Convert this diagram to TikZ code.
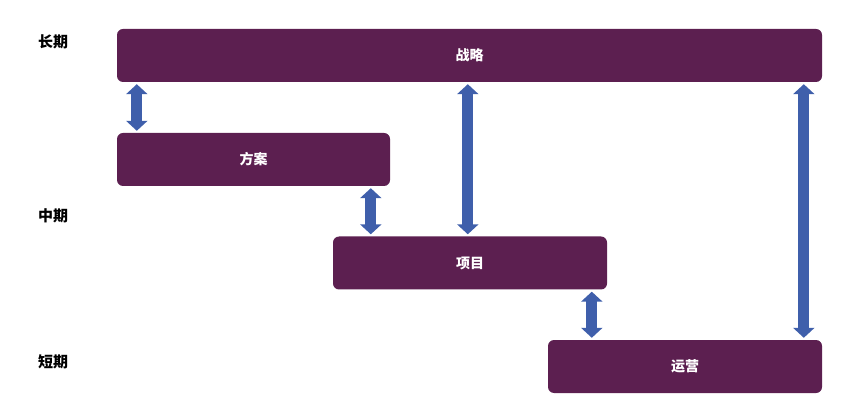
\documentclass[tikz,border=0pt]{standalone}
\usepackage{fontspec}
\newfontfamily\cjk{Noto Sans CJK SC}
\usetikzlibrary{positioning, calc, arrows.meta}

\definecolor{planpurple}{HTML}{5C1F50}
\definecolor{linkblue}{HTML}{3F5FAB}

\begin{document}
\begin{tikzpicture}[x=1pt, y=-1pt,
				% Define styles
				phasebox/.style={rectangle, fill=planpurple, rounded corners=6pt, minimum height=53pt, align=center, font=\cjk\bfseries\fontsize{14}{16}\selectfont, text=white, inner sep=0pt},
				horizon/.style={font=\cjk\bfseries\fontsize{15}{17}\selectfont, text=black},
				link/.style={{Triangle[width=21pt,length=10pt]}-{Triangle[width=21pt,length=10pt]}, line width=11pt, draw=linkblue, shorten >=2pt, shorten <=2pt}
				]
				\useasboundingbox (0,0) rectangle (861,419);
				
				% Phase boxes
				\node[phasebox, minimum width=705pt] (zl) at (469.5,55.5) {战略};
				\node[phasebox, minimum width=273pt] (fa) at (253.5,159.5) {方案};
				\node[phasebox, minimum width=274pt] (xm) at (470,263) {项目};
				\node[phasebox, minimum width=274pt] (yy) at (685,366.5) {运营};
				
				% Time horizon labels
				\node[horizon] (long) at (53,42) {长期};
				\node[horizon] (mid) at (53,216) {中期};
				\node[horizon] (short) at (53,362) {短期};
				
				% Arrow ends on the lower boxes
				\coordinate (fa1) at ([xshift=20pt]fa.north west);
				\coordinate (xm1) at ([xshift=38pt]xm.north west);
				\coordinate (xm2) at ([xshift=135pt]xm.north west);
				\coordinate (yy1) at ([xshift=44pt]yy.north west);
				\coordinate (yy2) at ([xshift=256pt]yy.north west);
				
				% Links between phases
				\draw[link] (zl.south -| fa1) -- (fa1);
				\draw[link] (fa.south -| xm1) -- (xm1);
				\draw[link] (zl.south -| xm2) -- (xm2);
				\draw[link] (xm.south -| yy1) -- (yy1);
				\draw[link] (zl.south -| yy2) -- (yy2);
				
\end{tikzpicture}
\end{document}
